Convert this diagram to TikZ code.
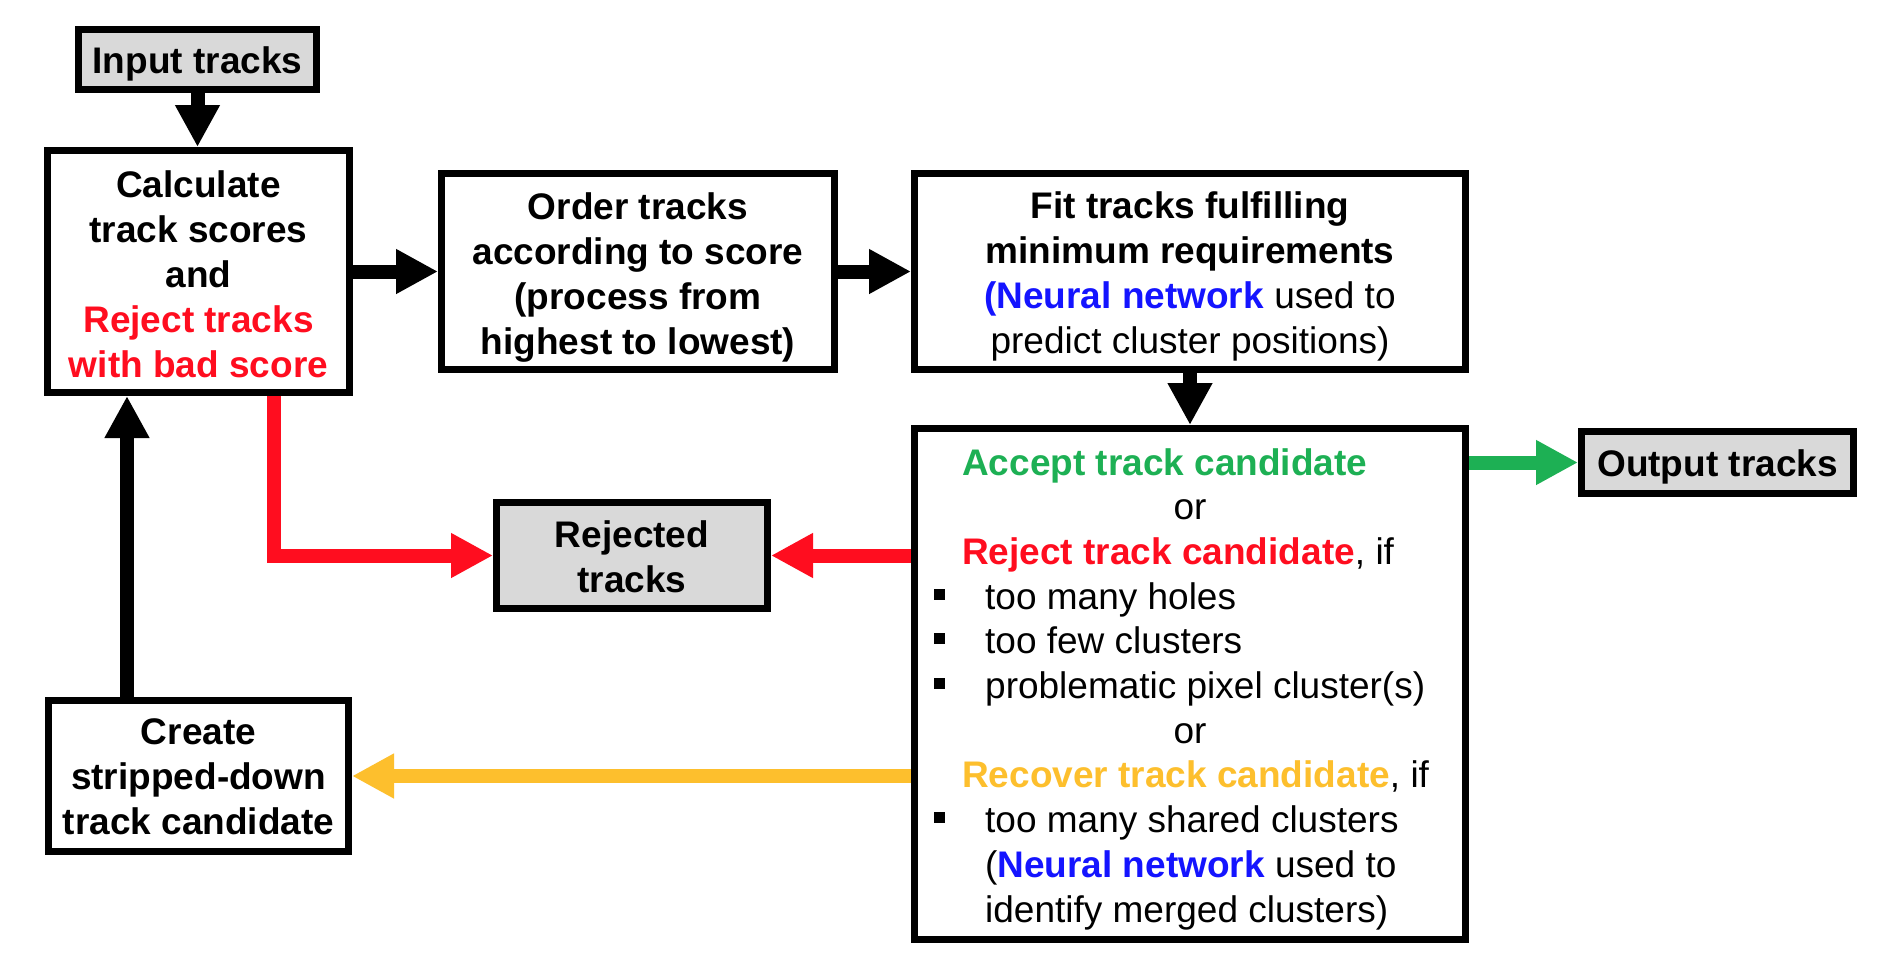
\documentclass[tikz,border=0pt]{standalone}
\usepackage{fontspec}
\setmainfont{Liberation Sans}
\usetikzlibrary{arrows.meta}
\definecolor{rred}{HTML}{FF0D1F}
\definecolor{ggreen}{HTML}{1DB054}
\definecolor{yyellow}{HTML}{FDBF2D}
\definecolor{bblue}{HTML}{1414FF}
\definecolor{ggray}{HTML}{D9D9D9}
\pgfdeclarelayer{bg}
\pgfsetlayers{bg,main}
\begin{document}
\begin{tikzpicture}[x=1pt,y=-1pt,
  box/.style={draw=black, line width=7pt, fill=white, inner sep=0pt},
  graybox/.style={box, fill=ggray},
  btxt/.style={inner sep=0pt, align=center, font=\fontsize{37}{45}\selectfont\bfseries},
  txt/.style={inner sep=0pt, anchor=base west, font=\fontsize{37}{45}\selectfont},
  ctxt/.style={inner sep=0pt, anchor=base, font=\fontsize{37}{45}\selectfont},
  blt/.style={fill=black, inner sep=0pt, minimum size=11pt},
  conn/.style={line width=14pt, -{Triangle[length=42pt,width=42pt]}},
]
\useasboundingbox (0,0) rectangle (1880,972);

% boxes
\node[graybox, minimum width=238pt, minimum height=60pt] (in) at (197.5,59.5) {};
\node[btxt] (intx) at ([yshift=-4pt]in.center) {Input tracks};
\node[box, minimum width=302pt, minimum height=242pt] (calc) at (198.5,271.5) {};
\node[btxt] (calctx) at ([yshift=-3pt]calc.center)
  {Calculate\\track scores\\and\\\color{rred}Reject tracks\\\color{rred}with bad score};
\node[box, minimum width=393pt, minimum height=196pt] (order) at (638,271.5) {};
\node[btxt] (ordertx) at ([yshift=-6pt]order.center)
  {Order tracks\\according to score\\(process from\\highest to lowest)};
\node[box, minimum width=551pt, minimum height=196pt] (fit) at (1190,271.5) {};
\node[btxt] (fittx) at ([yshift=-5pt]fit.center)
  {Fit tracks fulfilling\\minimum requirements\\{\color{bblue}(Neural network} {\mdseries used to}\\{\mdseries predict cluster positions)}};
\node[box, minimum width=551pt, minimum height=511pt] (acc) at (1190,684) {};
\node[graybox, minimum width=272pt, minimum height=62pt] (out) at (1717.5,462.5) {};
\node[btxt] (outtx) at ([yshift=-4pt]out.center) {Output tracks};
\node[graybox, minimum width=271pt, minimum height=106pt] (rej) at (632,555.5) {};
\node[btxt] (rejtx) at ([yshift=-1pt]rej.center) {Rejected\\tracks};
\node[box, minimum width=300pt, minimum height=151pt] (create) at (198.5,776) {};
\node[btxt] (createtx) at ([yshift=-1pt]create.center)
  {Create\\stripped-down\\track candidate};

% text of the decision box
\node[txt] (a0) at (962,475) {\bfseries\color{ggreen}Accept track candidate};
\node[ctxt] (a1) at (1190,519.7) {or};
\node[txt] (a2) at (962,564.4) {{\bfseries\color{rred}Reject track candidate}, if};
\node[blt] (b3) at (939,594.1) {};
\node[txt] (a3) at (985,609.1) {too many holes};
\node[blt] (b4) at (939,638.8) {};
\node[txt] (a4) at (985,653.8) {too few clusters};
\node[blt] (b5) at (939,683.5) {};
\node[txt] (a5) at (985,698.5) {problematic pixel cluster(s)};
\node[ctxt] (a6) at (1190,743.2) {or};
\node[txt] (a7) at (962,787.9) {{\bfseries\color{yyellow}Recover track candidate}, if};
\node[blt] (b8) at (939,817.6) {};
\node[txt] (a8) at (985,832.6) {too many shared clusters};
\node[txt] (a9) at (985,877.3) {({\bfseries\color{bblue}Neural network} used to};
\node[txt] (a10) at (985,922) {identify merged clusters)};

% connectors
\begin{pgfonlayer}{bg}
\fill[white] (0,0) rectangle (1880,972);
\draw[conn] (in.south) -- (in.south |- calc.north);
\draw[conn] (calc) -- (order);
\draw[conn] (order) -- (fit);
\draw[conn] (fit) -- (acc);
\draw[conn, ggreen] (out.west -| acc.east) -- (out.west);
\draw[conn, rred] ([xshift=75.5pt]calc.south) |- (rej.west);
\draw[conn, rred] (rej.east -| acc.west) -- (rej.east);
\draw[conn, yyellow] (create.east -| acc.west) -- (create.east);
\draw[conn] ([xshift=-71.5pt]create.north) -- ([xshift=-71.5pt]calc.south);
\end{pgfonlayer}
\end{tikzpicture}
\end{document}
